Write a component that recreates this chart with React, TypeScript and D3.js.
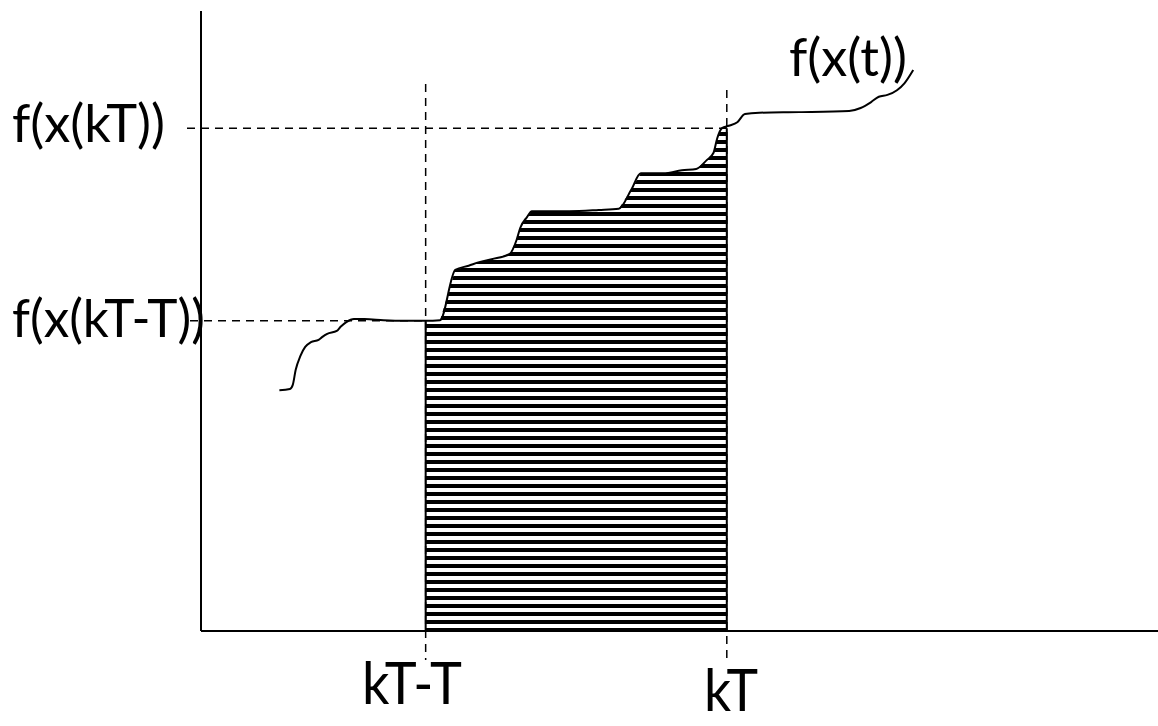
import React, { useEffect, useRef } from 'react';
import * as d3 from 'd3';

// curve f(x(t)) (t and f in arbitrary 0..100 units)
const tValues = [8.2, 9.3, 9.6, 9.9, 10.4, 10.9, 11.5, 12.3, 12.7, 13.2, 14.2, 14.6, 15.2, 16.0, 17.1, 19.1, 21.2, 23.5, 25.0, 26.6, 28.0, 29.1, 30.4, 32.3, 33.0, 33.4, 34.1, 34.6, 38.5, 41.6, 43.7, 45.0, 46.0, 48.4, 50.3, 51.8, 52.9, 53.6, 54.0, 54.5, 55.2, 56.1, 56.9, 58.4, 62.6, 67.8, 69.0, 70.1, 70.9, 71.8, 72.8, 73.6, 74.5];
const fValues = [40.6, 40.8, 41.5, 44.0, 46.4, 47.9, 48.7, 49.1, 49.6, 50.1, 50.6, 51.3, 52.1, 52.6, 52.6, 52.4, 52.3, 52.3, 52.4, 60.9, 61.6, 62.2, 62.7, 63.6, 65.9, 68.0, 69.8, 70.8, 70.8, 71.0, 71.2, 74.4, 77.2, 77.2, 77.7, 77.9, 79.4, 80.6, 83.1, 84.8, 85.2, 85.8, 87.2, 87.4, 87.5, 87.7, 88.2, 89.2, 90.1, 90.4, 91.2, 92.4, 94.6];

// sample instants on the time axis
const sampleTimes = [23.5, 55];
const sampleLabels = ['kT-T', 'kT'];
// matching function values
const sampleValues = [52.3, 84.8];
const valueLabels = ['f(x(kT-T))', 'f(x(kT))'];
const curveLabel = 'f(x(t))';

export default function App() {
  const svgRef = useRef<SVGSVGElement>(null);

  useEffect(() => {
    const width = 1158;
    const height = 726;
    const svg = d3.select(svgRef.current).attr('width', width).attr('height', height);
    svg.selectAll('*').remove();

    const x = d3.scaleLinear().domain([0, 100]).range([201, 1157]);
    const y = d3.scaleLinear().domain([0, 100]).range([631, 38]);
    const font = 'Lato, "Open Sans", sans-serif';

    const points = tValues.map((t, i) => ({ t, f: fValues[i] }));

    // hatch pattern
    const defs = svg.append('defs');
    const pat = defs.append('pattern')
      .attr('id', 'hatch')
      .attr('patternUnits', 'userSpaceOnUse')
      .attr('width', 8)
      .attr('height', 8);
    pat.append('rect').attr('width', 8).attr('height', 8).attr('fill', 'white');
    pat.append('rect').attr('y', 4).attr('width', 8).attr('height', 4).attr('fill', 'black');

    defs.append('clipPath').attr('id', 'span')
      .append('rect')
      .attr('x', x(sampleTimes[0]))
      .attr('y', 0)
      .attr('width', x(sampleTimes[1]) - x(sampleTimes[0]))
      .attr('height', y(0));

    // hatched area between the two samples
    const area = d3.area<{ t: number; f: number }>()
      .x(d => x(d.t))
      .y0(y(0))
      .y1(d => y(d.f));

    svg.append('path')
      .datum(points)
      .attr('clip-path', 'url(#span)')
      .attr('d', area)
      .attr('fill', 'url(#hatch)');

    // edges of the hatched strip
    sampleTimes.forEach((t, i) => {
      svg.append('line')
        .attr('x1', x(t)).attr('x2', x(t))
        .attr('y1', y(sampleValues[i])).attr('y2', y(0))
        .attr('stroke', 'black').attr('stroke-width', 2);
    });

    // axes
    svg.append('line')
      .attr('x1', x(0)).attr('x2', x(0))
      .attr('y1', 11).attr('y2', y(0))
      .attr('stroke', 'black').attr('stroke-width', 2);
    svg.append('line')
      .attr('x1', x(0)).attr('x2', width)
      .attr('y1', y(0)).attr('y2', y(0))
      .attr('stroke', 'black').attr('stroke-width', 2);

    // dashed guides
    const vTop = [84, 90];
    sampleTimes.forEach((t, i) => {
      svg.append('line')
        .attr('x1', x(t)).attr('x2', x(t))
        .attr('y1', vTop[i]).attr('y2', 660)
        .attr('stroke', 'black').attr('stroke-width', 1.5)
        .attr('stroke-dasharray', '8,6');
    });
    const hLeft = [190, 187];
    sampleValues.forEach((v, i) => {
      svg.append('line')
        .attr('x1', hLeft[i]).attr('x2', x(sampleTimes[i]))
        .attr('y1', y(v)).attr('y2', y(v))
        .attr('stroke', 'black').attr('stroke-width', 1.5)
        .attr('stroke-dasharray', '8,6');
    });

    // the curve
    const line = d3.line<{ t: number; f: number }>()
      .x(d => x(d.t))
      .y(d => y(d.f))
      .curve(d3.curveMonotoneX);
    svg.append('path')
      .datum(points)
      .attr('d', line)
      .attr('fill', 'none')
      .attr('stroke', 'black')
      .attr('stroke-width', 2);

    // labels
    const txt = (s: string, px: number, py: number, size: number, len?: number) => {
      const t = svg.append('text')
        .attr('x', px).attr('y', py)
        .attr('font-family', font)
        .attr('font-size', size)
        .attr('fill', 'black')
        .text(s);
      if (len) t.attr('textLength', len).attr('lengthAdjust', 'spacingAndGlyphs');
      return t;
    };

    txt(valueLabels[1], 12, 142, 52, 153);
    txt(valueLabels[0], 12, 337, 52, 193);
    txt(curveLabel, 789, 76, 53, 118);
    txt(sampleLabels[0], 362, 704, 58, 100);
    txt(sampleLabels[1], 704, 711, 58, 54);
  }, []);

  return (
    <div style={{ position: 'absolute', left: 0, top: 0 }}>
      <svg ref={svgRef} style={{ display: 'block' }}></svg>
    </div>
  );
}
